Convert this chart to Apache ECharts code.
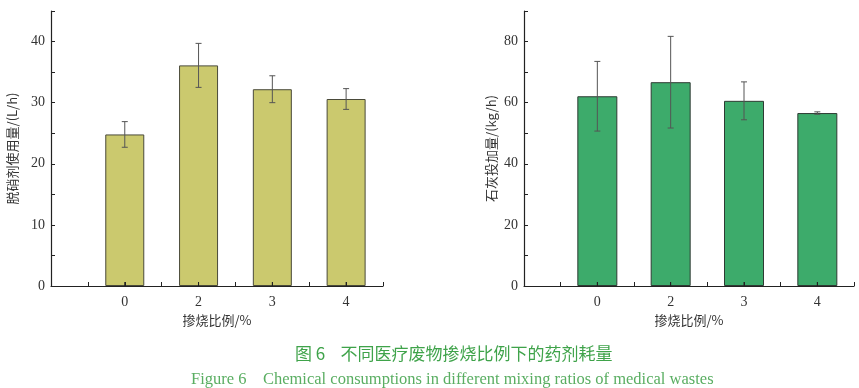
<!DOCTYPE html>
<html>
<head>
<meta charset="utf-8">
<script src="https://cdn.jsdelivr.net/npm/echarts@6/dist/echarts.min.js"></script>
<style>html,body{margin:0;padding:0;background:#fff;}#main{width:859px;height:388px;}</style>
</head>
<body>
<div id="main"></div>
<script>
var categories = ['0', '2', '3', '4'];
var denitrValues = [24.8, 36.1, 32.2, 30.6];
var denitrErrors = [2.1, 3.6, 2.2, 1.7];
var limeValues = [62.1, 66.7, 60.6, 56.6];
var limeErrors = [11.4, 15.0, 6.2, 0.4];
var leftYTicks = [0, 10, 20, 30, 40];
var rightYTicks = [0, 20, 40, 60, 80];

var chart = echarts.init(document.getElementById('main'));
var serif = 'Liberation Serif';
var cjk = 'Noto Sans CJK SC';

function xAxisCfg(gridIndex) {
  return {
    type: 'value', gridIndex: gridIndex, min: 0, max: 4.5, interval: 0.5, z: 5,
    name: '掺烧比例/%', nameLocation: 'middle', nameGap: 24,
    nameTextStyle: {fontFamily: cjk, fontSize: 13, color: '#333'},
    axisLine: {show: true, onZero: false, lineStyle: {color: '#222', width: 1.2}},
    axisTick: {show: true, inside: true, length: 4, lineStyle: {color: '#222'}},
    splitLine: {show: false},
    axisLabel: {
      margin: 9, fontFamily: serif, fontSize: 14, color: '#333',
      showMinLabel: true, showMaxLabel: true,
      formatter: function (v) {
        var i = Math.round(v * 2);
        if (i % 2 !== 0) return '';
        var k = i / 2 - 1;
        return (k >= 0 && k < categories.length) ? categories[k] : '';
      }
    }
  };
}
function yAxisCfg(gridIndex, max, interval, labels, name, gap) {
  return {
    type: 'value', gridIndex: gridIndex, min: 0, max: max, interval: interval, z: 5,
    name: name, nameLocation: 'middle', nameGap: gap, nameRotate: 90,
    nameTextStyle: {fontFamily: cjk, fontSize: 13, color: '#333'},
    axisLine: {show: true, lineStyle: {color: '#222', width: 1.2}},
    axisTick: {show: true, inside: true, length: 4, lineStyle: {color: '#222'}},
    splitLine: {show: false},
    axisLabel: {
      margin: 6, fontFamily: serif, fontSize: 14, color: '#333',
      formatter: function (v) { return labels.indexOf(v) >= 0 ? String(v) : ''; }
    }
  };
}
function barData(vals) {
  return vals.map(function (v, i) { return [i + 1, v]; });
}
function errData(vals, errs) {
  return vals.map(function (v, i) { return [i + 1, v - errs[i], v + errs[i]]; });
}
function errSeries(xi, yi, vals, errs) {
  return {
    type: 'custom', xAxisIndex: xi, yAxisIndex: yi, z: 10,
    data: errData(vals, errs),
    encode: {x: 0, y: [1, 2]},
    renderItem: function (params, api) {
      var lo = api.coord([api.value(0), api.value(1)]);
      var hi = api.coord([api.value(0), api.value(2)]);
      var base = api.coord([api.value(0), 0]);
      var w = 3;
      var st = {stroke: '#555', lineWidth: 1};
      return {type: 'group', children: [
        {type: 'line', shape: {x1: hi[0], y1: hi[1], x2: lo[0], y2: lo[1]}, style: st},
        {type: 'line', shape: {x1: hi[0] - w, y1: hi[1], x2: hi[0] + w, y2: hi[1]}, style: st},
        {type: 'line', shape: {x1: lo[0] - w, y1: lo[1], x2: lo[0] + w, y2: lo[1]}, style: st},
        {type: 'line', shape: {x1: base[0], y1: base[1], x2: base[0], y2: base[1] - 4}, style: {stroke: '#222', lineWidth: 1}}
      ]};
    }
  };
}

chart.setOption({
  animation: false,
  backgroundColor: '#fff',
  title: [
    {text: '图 6    不同医疗废物掺烧比例下的药剂耗量', left: 290, top: 340,
     textStyle: {fontFamily: cjk, fontSize: 17, fontWeight: 'normal', color: '#3fa34a'}},
    {text: 'Figure 6    Chemical consumptions in different mixing ratios of medical wastes', left: 186, top: 366,
     textStyle: {fontFamily: serif, fontSize: 16.5, fontWeight: 'normal', color: '#5aae62'}}
  ],
  grid: [
    {left: 51, top: 11, width: 332, height: 275},
    {left: 524, top: 11, width: 330, height: 275}
  ],
  xAxis: [xAxisCfg(0), xAxisCfg(1)],
  yAxis: [
    yAxisCfg(0, 45, 5, leftYTicks, '脱硝剂使用量/(L/h)', 32),
    yAxisCfg(1, 90, 10, rightYTicks, '石灰投加量/(kg/h)', 26)
  ],
  series: [
    {type: 'bar', xAxisIndex: 0, yAxisIndex: 0, barWidth: 39, data: barData(denitrValues),
     itemStyle: {color: '#cbc96e', borderColor: '#4a4a3a', borderWidth: 1}},
    errSeries(0, 0, denitrValues, denitrErrors),
    {type: 'bar', xAxisIndex: 1, yAxisIndex: 1, barWidth: 40, data: barData(limeValues),
     itemStyle: {color: '#3dab6b', borderColor: '#2e3b33', borderWidth: 1}},
    errSeries(1, 1, limeValues, limeErrors)
  ]
});
</script>
</body>
</html>
